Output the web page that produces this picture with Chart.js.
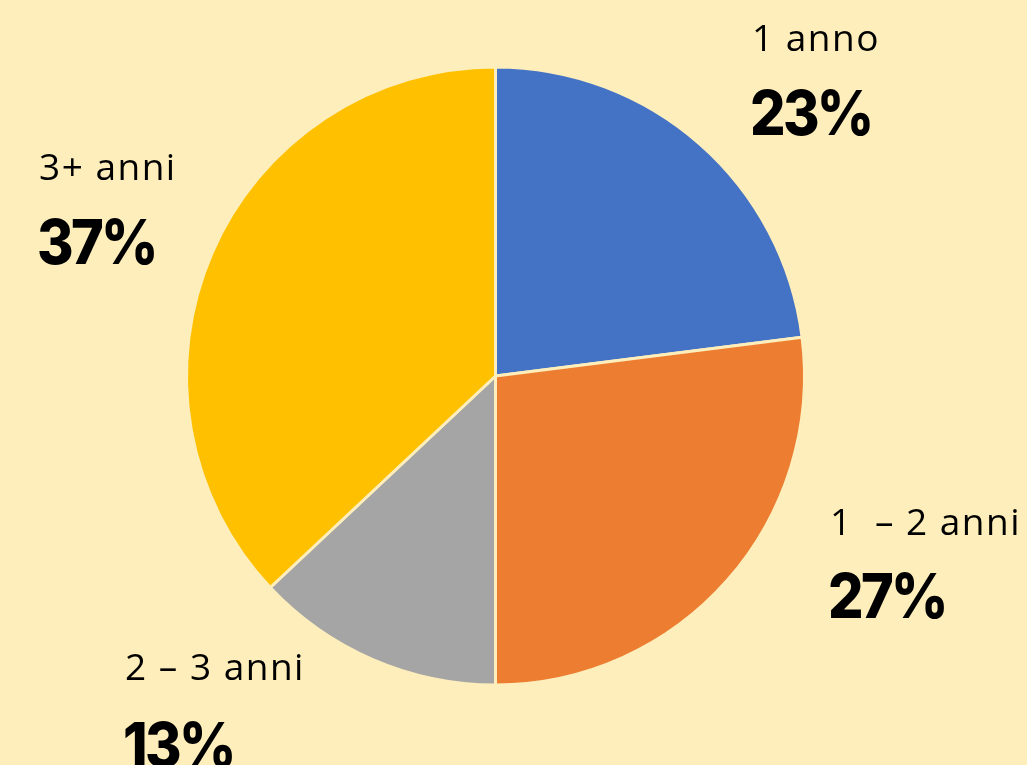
<!DOCTYPE html>
<html>
<head>
<meta charset="utf-8">
<script src="https://cdn.jsdelivr.net/npm/chart.js@4/dist/chart.umd.min.js"></script>
<style>
  html, body { margin: 0; padding: 0; background: #FDEEBB; }
  #wrap { width: 1027px; height: 765px; position: relative; }
</style>
</head>
<body>
<div id="wrap"><canvas id="c" width="1027" height="765"></canvas></div>
<script>
// ---- data ----
const categories = ["1 anno", "1 – 2 anni", "2 – 3 anni", "3+ anni"];
const displayLabels = ["1 anno", "1  – 2 anni", "2 – 3 anni", "3+ anni"];
const values = [23, 27, 13, 37];
const colors = ["#4472C4", "#ED7D31", "#A5A5A5", "#FFC000"];

const BG = "#FDEEBB";

// label anchor positions (left x, baseline of name, baseline of percentage)
const labelPos = [
  { x: 752, y1: 51, y2: 135 },
  { x: 830, y1: 535, y2: 618 },
  { x: 125, y1: 680, y2: 767 },
  { x: 39,  y1: 180, y2: 264 }
];

const labelPlugin = {
  id: 'outsideLabels',
  afterDraw(chart) {
    const ctx = chart.ctx;
    ctx.save();
    ctx.fillStyle = '#000';
    ctx.textAlign = 'left';
    ctx.textBaseline = 'alphabetic';
    values.forEach((v, i) => {
      const p = labelPos[i];
      ctx.save();
      ctx.font = '400 37px "Open Sans", Lato, sans-serif';
      if ('letterSpacing' in ctx) ctx.letterSpacing = '1.5px';
      ctx.fillText(displayLabels[i], p.x, p.y1);
      ctx.restore();
      ctx.save();
      ctx.font = '800 62px Inter, "Open Sans", sans-serif';
      if ('letterSpacing' in ctx) ctx.letterSpacing = '-3px';
      ctx.translate(p.x - 2, p.y2);
      ctx.scale(0.9, 1);
      ctx.fillText(v + '%', 0, 0);
      ctx.restore();
    });
    ctx.restore();
  }
};

const bgPlugin = {
  id: 'bg',
  beforeDraw(chart) {
    const ctx = chart.ctx;
    ctx.save();
    ctx.fillStyle = BG;
    ctx.fillRect(0, 0, chart.width, chart.height);
    ctx.restore();
  }
};

new Chart(document.getElementById('c'), {
  type: 'pie',
  data: {
    labels: categories,
    datasets: [{
      data: values,
      backgroundColor: colors,
      borderColor: BG,
      borderWidth: 3
    }]
  },
  options: {
    responsive: false,
    animation: false,
    radius: 309,
    layout: { padding: { left: 186, right: 222, top: 67, bottom: 80 } },
    plugins: {
      legend: { display: false },
      tooltip: { enabled: false },
      title: { display: false }
    }
  },
  plugins: [bgPlugin, labelPlugin]
});
</script>
</body>
</html>
